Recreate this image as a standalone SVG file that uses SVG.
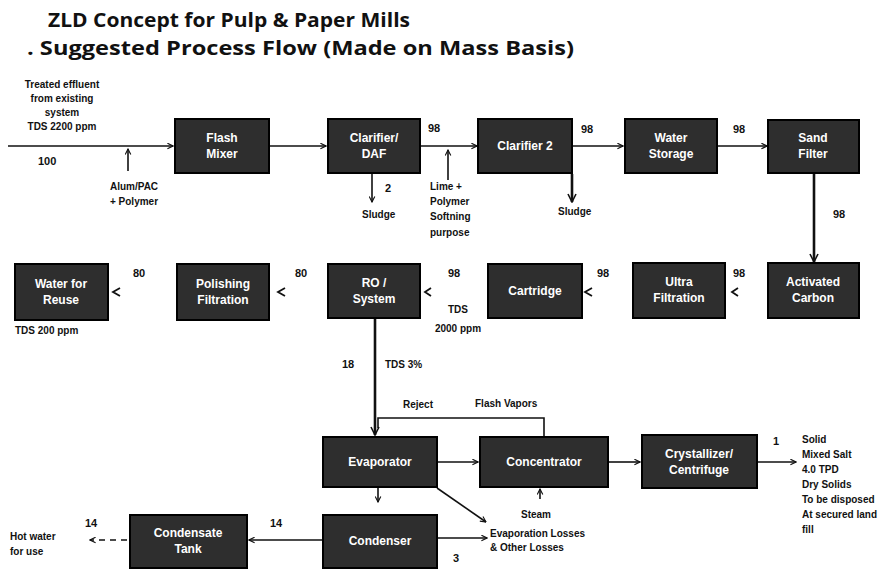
<svg xmlns="http://www.w3.org/2000/svg" width="896" height="569" viewBox="0 0 896 569">
<style>
.title{font-family:"Open Sans","Liberation Sans",sans-serif;font-weight:bold;font-size:20px;fill:#111}
.lbl{font-family:"Liberation Sans",Arial,sans-serif;font-weight:bold;font-size:10px;fill:#111}
.num{font-family:"Liberation Sans",Arial,sans-serif;font-weight:bold;font-size:11px;fill:#111}
.box{fill:#2e2e2e;stroke:#000;stroke-width:2}
.bt{font-family:"Liberation Sans",Arial,sans-serif;font-weight:bold;font-size:12px;fill:#fff;text-anchor:middle}
.ln{fill:none;stroke:#111;stroke-width:1.6}
.thick{fill:none;stroke:#111;stroke-width:2.6}
.dash{fill:none;stroke:#111;stroke-width:1.6;stroke-dasharray:6 5}
.chev{fill:none;stroke:#111;stroke-width:1.8}
</style>
<defs>
<marker id="a" viewBox="0 0 10 10" refX="9" refY="5" markerWidth="7" markerHeight="7" orient="auto" markerUnits="userSpaceOnUse">
<path d="M1,1 L9,5 L1,9" fill="none" stroke="#111" stroke-width="1.6"/>
</marker>
<marker id="b" viewBox="0 0 10 10" refX="9" refY="5" markerWidth="10" markerHeight="10" orient="auto" markerUnits="userSpaceOnUse">
<path d="M1,1 L9,5 L1,9" fill="none" stroke="#111" stroke-width="1.6"/>
</marker>
</defs>
<rect width="896" height="569" fill="#fff"/>

<text class="title" x="48" y="27" textLength="362" lengthAdjust="spacingAndGlyphs">ZLD Concept for Pulp &amp; Paper Mills</text>
<text class="title" x="27" y="55" textLength="547" lengthAdjust="spacingAndGlyphs">. Suggested Process Flow (Made on Mass Basis)</text>

<g id="labels">
<text class="lbl" x="62" y="88" text-anchor="middle">Treated effluent</text>
<text class="lbl" x="62" y="102" text-anchor="middle">from existing</text>
<text class="lbl" x="62" y="116" text-anchor="middle">system</text>
<text class="lbl" x="62" y="130" text-anchor="middle">TDS 2200 ppm</text>
<text class="num" x="38" y="165">100</text>
<text class="lbl" x="134" y="190" text-anchor="middle">Alum/PAC</text>
<text class="lbl" x="134" y="205" text-anchor="middle">+ Polymer</text>
<text class="num" x="428" y="132">98</text>
<text class="num" x="385" y="192">2</text>
<text class="lbl" x="362" y="218">Sludge</text>
<text class="lbl" x="430" y="190">Lime +</text>
<text class="lbl" x="430" y="205">Polymer</text>
<text class="lbl" x="430" y="220">Softning</text>
<text class="lbl" x="430" y="236">purpose</text>
<text class="num" x="581" y="133">98</text>
<text class="lbl" x="558" y="215">Sludge</text>
<text class="num" x="733" y="133">98</text>
<text class="num" x="833" y="218">98</text>
<text class="num" x="733" y="277">98</text>
<text class="num" x="597" y="277">98</text>
<text class="num" x="448" y="277">98</text>
<text class="lbl" x="458" y="313" text-anchor="middle">TDS</text>
<text class="lbl" x="458" y="332" text-anchor="middle">2000 ppm</text>
<text class="num" x="295" y="277">80</text>
<text class="num" x="133" y="277">80</text>
<text class="lbl" x="15" y="334">TDS 200 ppm</text>
<text class="num" x="342" y="368">18</text>
<text class="lbl" x="385" y="368">TDS 3%</text>
<text class="lbl" x="403" y="408">Reject</text>
<text class="lbl" x="475" y="407">Flash Vapors</text>
<text class="num" x="773" y="445">1</text>
<text class="lbl" x="802" y="443">Solid</text>
<text class="lbl" x="802" y="458">Mixed Salt</text>
<text class="lbl" x="802" y="473">4.0 TPD</text>
<text class="lbl" x="802" y="488">Dry Solids</text>
<text class="lbl" x="802" y="503">To be disposed</text>
<text class="lbl" x="802" y="518">At secured land</text>
<text class="lbl" x="802" y="533">fill</text>
<text class="lbl" x="521" y="518">Steam</text>
<text class="lbl" x="490" y="537">Evaporation Losses</text>
<text class="lbl" x="490" y="551">&amp; Other Losses</text>
<text class="num" x="453" y="562">3</text>
<text class="num" x="270" y="527">14</text>
<text class="num" x="85" y="527">14</text>
<text class="lbl" x="10" y="540">Hot water</text>
<text class="lbl" x="10" y="555">for use</text>
</g>

<g id="connectors">
<path class="ln" d="M8,146 H173" marker-end="url(#a)"/>
<path class="ln" d="M128,171 V149" marker-end="url(#a)"/>
<path class="ln" d="M270,146 H326" marker-end="url(#a)"/>
<path class="ln" d="M372,174 V202" marker-end="url(#a)"/>
<path class="ln" d="M420,146 H477" marker-end="url(#a)"/>
<path class="ln" d="M448,180 V150" marker-end="url(#a)"/>
<path class="thick" d="M572,174 V202" marker-end="url(#b)"/>
<path class="ln" d="M572,146 H623" marker-end="url(#a)"/>
<path class="ln" d="M717,146 H767" marker-end="url(#a)"/>
<path class="thick" d="M814,174 V262" marker-end="url(#b)"/>
<path class="chev" d="M738,288 L732,292 L738,296"/>
<path class="chev" d="M592,288 L585,292 L592,296"/>
<path class="chev" d="M431,288 L425,292 L431,296"/>
<path class="chev" d="M285,288 L278,292 L285,296"/>
<path class="chev" d="M120,288 L113,292 L120,296"/>
<path class="thick" d="M375,319 V435" marker-end="url(#b)"/>
<path class="ln" d="M544,437 V418 H378 V428"/>
<path class="ln" d="M437,462 H478" marker-end="url(#a)"/>
<path class="ln" d="M608,462 H640" marker-end="url(#a)"/>
<path class="ln" d="M757,462 H796" marker-end="url(#a)"/>
<path class="ln" d="M540,499 V489" marker-end="url(#a)"/>
<path class="ln" d="M378,488 V502" marker-end="url(#a)"/>
<path class="ln" d="M437,488 L486,522" marker-end="url(#a)"/>
<path class="ln" d="M437,538 H487" marker-end="url(#a)"/>
<path class="ln" d="M323,540 H249" marker-end="url(#a)"/>
<path class="dash" d="M127,540 H90" marker-end="url(#a)"/>
</g>

<g id="n1"><rect class="box" x="175" y="119" width="94" height="54"/><text class="bt" x="222" y="142">Flash</text><text class="bt" x="222" y="158">Mixer</text></g>
<g id="n2"><rect class="box" x="328" y="119" width="92" height="54"/><text class="bt" x="374" y="142">Clarifier/</text><text class="bt" x="374" y="158">DAF</text></g>
<g id="n3"><rect class="box" x="478" y="119" width="94" height="54"/><text class="bt" x="525" y="150">Clarifier 2</text></g>
<g id="n4"><rect class="box" x="625" y="119" width="92" height="54"/><text class="bt" x="671" y="142">Water</text><text class="bt" x="671" y="158">Storage</text></g>
<g id="n5"><rect class="box" x="768" y="120" width="91" height="53"/><text class="bt" x="813" y="142">Sand</text><text class="bt" x="813" y="158">Filter</text></g>
<g id="n6"><rect class="box" x="768" y="263" width="91" height="55"/><text class="bt" x="813" y="286">Activated</text><text class="bt" x="813" y="302">Carbon</text></g>
<g id="n7"><rect class="box" x="633" y="263" width="92" height="55"/><text class="bt" x="679" y="286">Ultra</text><text class="bt" x="679" y="302">Filtration</text></g>
<g id="n8"><rect class="box" x="488" y="264" width="94" height="54"/><text class="bt" x="535" y="295">Cartridge</text></g>
<g id="n9"><rect class="box" x="328" y="264" width="92" height="54"/><text class="bt" x="374" y="287">RO /</text><text class="bt" x="374" y="303">System</text></g>
<g id="n10"><rect class="box" x="177" y="264" width="92" height="56"/><text class="bt" x="223" y="288">Polishing</text><text class="bt" x="223" y="304">Filtration</text></g>
<g id="n11"><rect class="box" x="15" y="264" width="93" height="56"/><text class="bt" x="61" y="288">Water for</text><text class="bt" x="61" y="304">Reuse</text></g>
<g id="n12"><rect class="box" x="323" y="437" width="114" height="50"/><text class="bt" x="380" y="466">Evaporator</text></g>
<g id="n13"><rect class="box" x="480" y="437" width="128" height="50"/><text class="bt" x="544" y="466">Concentrator</text></g>
<g id="n14"><rect class="box" x="642" y="435" width="115" height="53"/><text class="bt" x="699" y="458">Crystallizer/</text><text class="bt" x="699" y="474">Centrifuge</text></g>
<g id="n15"><rect class="box" x="323" y="515" width="114" height="53"/><text class="bt" x="380" y="545">Condenser</text></g>
<g id="n16"><rect class="box" x="130" y="515" width="117" height="53"/><text class="bt" x="188" y="537">Condensate</text><text class="bt" x="188" y="553">Tank</text></g>
</svg>
